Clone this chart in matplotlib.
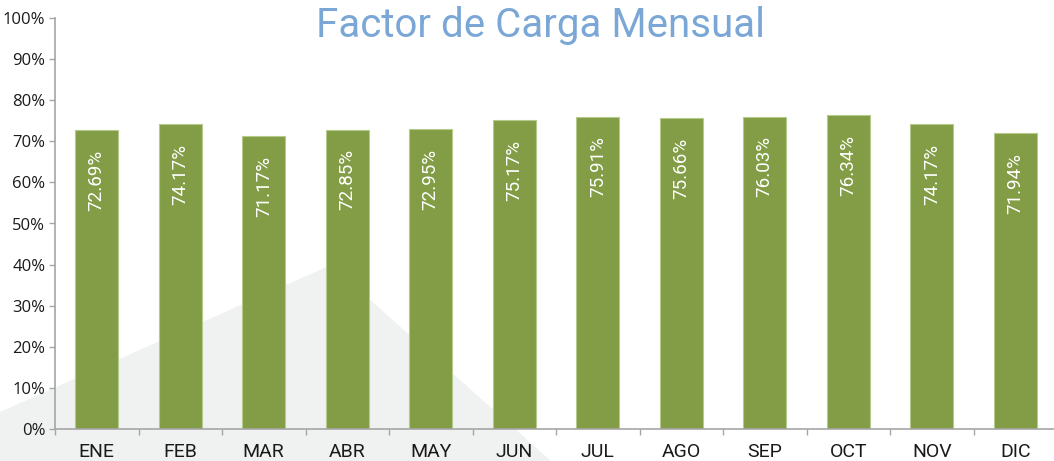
import matplotlib
matplotlib.use("Agg")
from matplotlib import pyplot as plt
from matplotlib.patches import Polygon
from matplotlib.ticker import FixedLocator, MultipleLocator, PercentFormatter
import numpy as np

months = ["ENE", "FEB", "MAR", "ABR", "MAY", "JUN",
          "JUL", "AGO", "SEP", "OCT", "NOV", "DIC"]
load_factor = [72.69, 74.17, 71.17, 72.85, 72.95, 75.17,
               75.91, 75.66, 76.03, 76.34, 74.17, 71.94]

GREEN = "#829d45"
AXIS = "#a6a6a6"
TEXT = "#1a1a1a"

fig = plt.figure(figsize=(10.54, 4.61), dpi=100)

# grey decorative shape in the background (figure pixel coords, origin top-left)
W, H = 1054, 461
shape = [(0, 412), (331, 265), (551, 461), (0, 461)]
fig.patches.append(Polygon([(x / W, 1 - y / H) for x, y in shape], closed=True,
                           transform=fig.transFigure, facecolor="#f0f1f1",
                           edgecolor="none", zorder=-5))

ax = fig.add_axes([55 / W, 32 / H, 1002 / W, 411 / H])
ax.set_facecolor("none")

x = np.arange(len(months))
bars = ax.bar(x, load_factor, width=0.52, color=GREEN,
              edgecolor="#b5cb8c", linewidth=0.8, zorder=2)

for rect, v in zip(bars, load_factor):
    ax.annotate(f"{v:.2f}%", (rect.get_x() + rect.get_width() / 2, v),
                xytext=(0, -14), textcoords="offset points",
                rotation=90, ha="center", va="top", color="white",
                fontsize=13.5, family="Roboto")

ax.set_xlim(-0.5, len(months) - 0.5)
ax.set_ylim(0, 100)
ax.yaxis.set_major_locator(MultipleLocator(10))
ax.yaxis.set_major_formatter(PercentFormatter(decimals=0))
ax.set_xticks(x, months)
ax.xaxis.set_minor_locator(FixedLocator(np.arange(len(months) + 1) - 0.5))
ax.tick_params(axis="x", which="major", length=0, pad=10, labelsize=14,
               labelcolor=TEXT)
ax.tick_params(axis="x", which="minor", length=4, color=AXIS, width=1)
ax.tick_params(axis="y", length=4, color=AXIS, width=1, pad=3,
               labelsize=12, labelcolor=TEXT)
for lab in ax.get_xticklabels():
    lab.set_family("Roboto")
for lab in ax.get_yticklabels():
    lab.set_family("Open Sans")

for side in ("top", "right"):
    ax.spines[side].set_visible(False)
for side in ("left", "bottom"):
    ax.spines[side].set_color(AXIS)
    ax.spines[side].set_linewidth(1.2)

fig.text(541 / W, 1 - 37 / H, "Factor de Carga Mensual", ha="center",
         va="baseline", fontsize=29, color="#7aa7d6", family="Roboto")

fig.savefig("out.png", dpi=100)
